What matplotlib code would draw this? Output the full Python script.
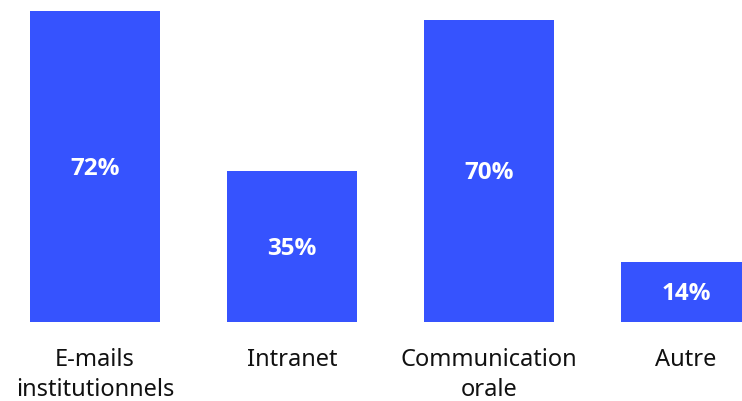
import matplotlib
matplotlib.use("Agg")
import matplotlib.pyplot as plt

categories = ["E-mails\ninstitutionnels", "Intranet", "Communication\norale", "Autre"]
values = [72, 35, 70, 14]
labels = ["72%", "35%", "70%", "14%"]

color = "#3653FE"
plt.rcParams['font.family'] = ['Noto Sans', 'DejaVu Sans']

fig = plt.figure(figsize=(7.42, 4.02), dpi=100)
bottom = (402 - 323) / 402
top = (402 - 12) / 402
ax = fig.add_axes([0, bottom, 1, top - bottom])
x = list(range(len(categories)))
ax.bar(x, values, width=130 / 197, color=color)
ax.set_xlim((0 - 95) / 197, (742 - 95) / 197)
ax.set_ylim(0, 72)
for xi, v, lab in zip(x, values, labels):
    ax.text(xi, v / 2 - 0.3, lab, ha="center", va="center", color="white",
            fontsize=17.5, fontweight="bold", family=['Open Sans', 'DejaVu Sans'])
ax.set_xticks(x)
ax.set_xticklabels(categories, fontsize=17, color="#111111", linespacing=1.33)
ax.tick_params(axis="x", length=0, pad=18)
ax.set_yticks([])
for s in ax.spines.values():
    s.set_visible(False)
fig.savefig("out.png", dpi=100)
